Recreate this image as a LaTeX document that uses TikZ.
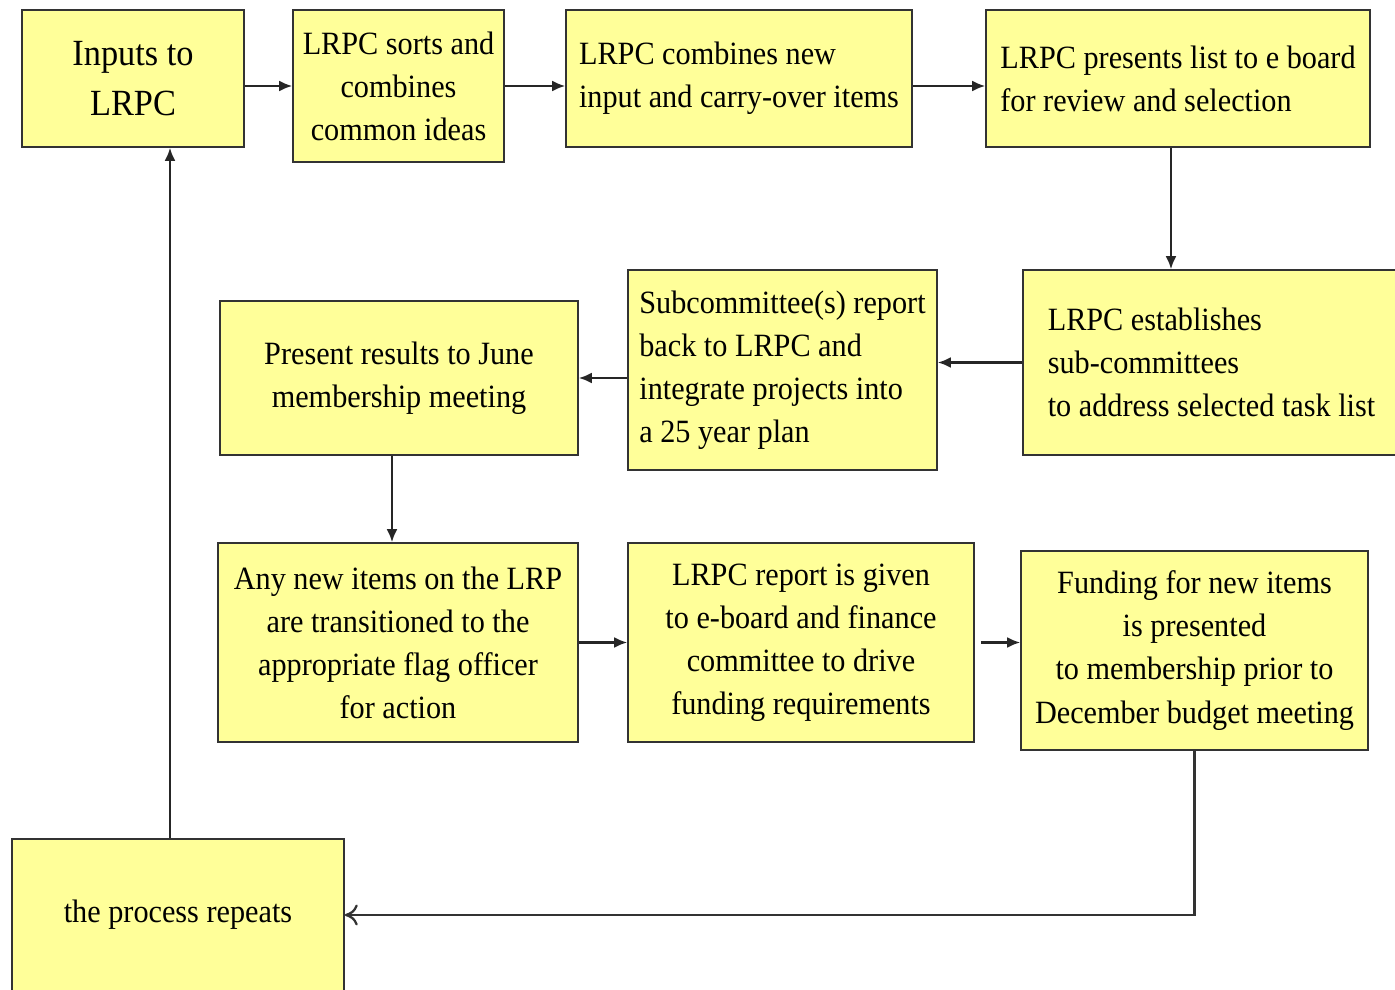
\documentclass[tikz,border=0pt]{standalone}
\usepackage{fontspec}
\setmainfont{Liberation Serif}[FakeStretch=0.93]
\usetikzlibrary{arrows.meta}
\definecolor{boxyellow}{HTML}{FFFF99}
\begin{document}
\begin{tikzpicture}[
        box/.style={rectangle, draw=black!80, line width=0.9pt, fill=boxyellow, inner sep=2pt, font=\fontsize{18.5}{24.5}\selectfont},
        lbox/.style={box, align=left},
        cbox/.style={box, align=center},
        arrow/.style={-{Latex[length=2.6mm, width=2.2mm]}, line width=1.3pt, black!85},
        back/.style={-{To[length=2.6mm, width=4.2mm]}, line width=1.3pt, black!80}
    ]
        \useasboundingbox (0,0) rectangle (27.9,19.8);
        \clip (0,0) rectangle (27.9,19.8);

        % Top row
        \node[cbox, minimum width=4.44cm, minimum height=2.74cm, font=\fontsize{21}{28.5}\selectfont] (Inputs) at (2.66,18.23) {Inputs to\\LRPC};
        \node[cbox, minimum width=4.22cm, minimum height=3.04cm] (Sorts) at (7.97,18.08) {LRPC sorts and\\combines\\common ideas};
        \node[lbox, minimum width=6.92cm, minimum height=2.74cm] (Combines) at (14.78,18.23) {LRPC combines new\\ input and carry-over items};
        \node[lbox, minimum width=7.68cm, minimum height=2.74cm] (Presents) at (23.56,18.23) {LRPC presents list to e board\\ for review and selection};

        % Middle row
        \node[lbox, minimum width=7.54cm, minimum height=3.70cm] (Establishes) at (24.23,12.55) {LRPC establishes\\sub-committees\\ to address selected task list};
        \node[lbox, minimum width=6.18cm, minimum height=4.00cm] (Report) at (15.65,12.40) {Subcommittee(s) report\\back to LRPC and\\ integrate projects into\\a 25 year plan};
        \node[cbox, minimum width=7.16cm, minimum height=3.08cm] (Results) at (7.98,12.24) {Present results to June\\membership meeting};

        % Bottom row
        \node[cbox, minimum width=7.20cm, minimum height=3.98cm] (Transition) at (7.96,6.95) {Any new items on the LRP\\are transitioned to the\\appropriate flag officer\\for action};
        \node[cbox, minimum width=6.92cm, minimum height=3.98cm] (Given) at (16.02,6.95) {LRPC report is given\\to e-board and finance\\committee to drive\\funding requirements};
        \node[cbox, minimum width=6.94cm, minimum height=3.98cm] (Funding) at (23.89,6.79) {Funding for new items\\is presented\\to membership prior to\\December budget meeting};

        % Loop back
        \node[cbox, minimum width=6.64cm, minimum height=3.04cm] (Repeats) at (3.56,1.50) {the process repeats};

        % Flow arrows
        \draw[arrow] (Inputs.east |- Sorts) -- (Sorts.west);
        \draw[arrow] (Sorts.east) -- (Combines.west |- Sorts);
        \draw[arrow] (Combines.east |- Sorts) -- (Presents.west |- Sorts);
        \draw[arrow] ([xshift=-0.14cm]Presents.south) -- ([xshift=-0.14cm]Presents.south |- Establishes.north);
        \draw[arrow] (Establishes.west) -- (Report.east |- Establishes.west);
        \draw[arrow] (Report.west |- Results.east) -- (Results.east);
        \draw[arrow] ([xshift=-0.14cm]Results.south) -- ([xshift=-0.14cm]Results.south |- Transition.north);
        \draw[arrow] (Transition.east) -- (Given.west);
        \draw[arrow, shorten <=0.12cm] (Given.east) -- (Funding.west |- Given.east);
        \draw[back] (Funding.south) -- (Funding.south |- Repeats.east) -- (Repeats.east);
        \draw[arrow] ([xshift=-0.16cm]Repeats.north) -- ([xshift=-0.16cm]Repeats.north |- Inputs.south);
    \end{tikzpicture}
\end{document}
